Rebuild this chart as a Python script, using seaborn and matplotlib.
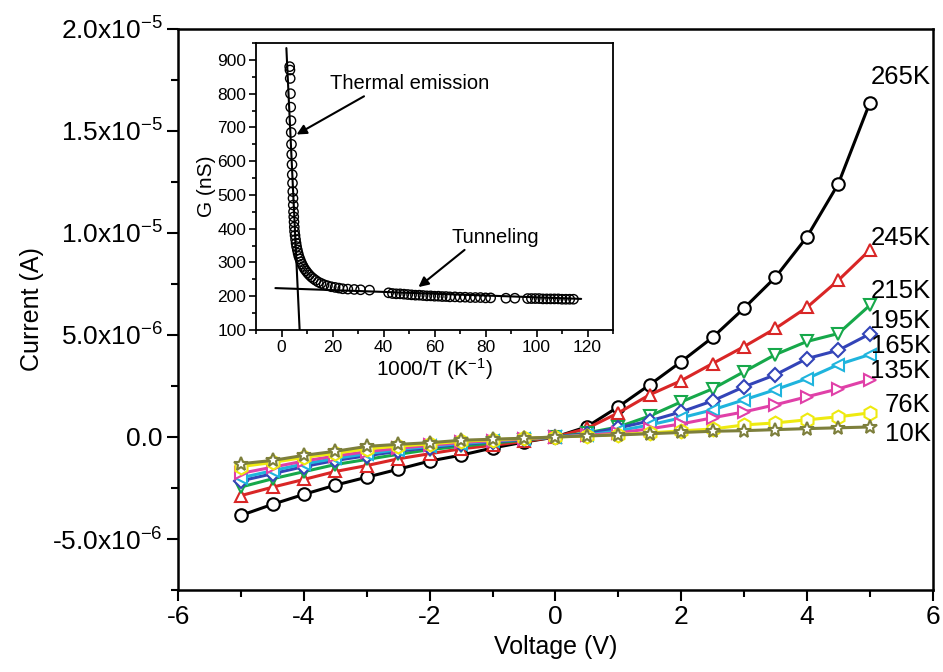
import matplotlib
matplotlib.use("Agg")
import matplotlib.pyplot as plt
import seaborn as sns
import pandas as pd
from matplotlib.ticker import MultipleLocator, FixedLocator, FixedFormatter

# ---- main I-V data (current in uA) ----
voltage = [-5.0, -4.5, -4.0, -3.5, -3.0, -2.5, -2.0, -1.5, -1.0, -0.5, 0.0,
           0.5, 1.0, 1.5, 2.0, 2.5, 3.0, 3.5, 4.0, 4.5, 5.0]
temps = ["265K", "245K", "215K", "195K", "165K", "135K", "76K", "10K"]
cur_265 = [-3.84, -3.30, -2.81, -2.36, -1.97, -1.58, -1.18, -0.89, -0.54, -0.25, 0.0,
           0.50, 1.48, 2.56, 3.69, 4.88, 6.31, 7.83, 9.80, 12.41, 16.37]
cur_245 = [-2.87, -2.46, -2.08, -1.69, -1.40, -1.07, -0.82, -0.58, -0.41, -0.22, 0.0,
           0.42, 1.18, 2.07, 2.76, 3.60, 4.43, 5.32, 6.35, 7.68, 9.16]
cur_215 = [-2.45, -2.05, -1.70, -1.35, -1.10, -0.85, -0.62, -0.45, -0.30, -0.15, 0.0,
           0.20, 0.49, 1.03, 1.72, 2.36, 3.20, 4.04, 4.68, 5.07, 6.45]
cur_195 = [-2.15, -1.80, -1.45, -1.15, -0.92, -0.70, -0.52, -0.36, -0.24, -0.12, 0.0,
           0.15, 0.44, 0.79, 1.23, 1.77, 2.46, 3.05, 3.84, 4.25, 5.05]
cur_165 = [-2.00, -1.65, -1.32, -1.05, -0.82, -0.62, -0.46, -0.32, -0.21, -0.10, 0.0,
           0.10, 0.30, 0.59, 0.94, 1.33, 1.82, 2.32, 2.86, 3.55, 4.04]
cur_135 = [-1.78, -1.48, -1.18, -0.93, -0.72, -0.55, -0.41, -0.27, -0.18, -0.09, 0.0,
           0.08, 0.20, 0.40, 0.64, 0.94, 1.23, 1.58, 1.97, 2.36, 2.81]
cur_76 = [-1.45, -1.25, -1.00, -0.80, -0.58, -0.45, -0.34, -0.21, -0.14, -0.07, 0.0,
          0.05, 0.12, 0.20, 0.30, 0.39, 0.59, 0.69, 0.84, 0.99, 1.18]
cur_10 = [-1.31, -1.15, -0.90, -0.70, -0.46, -0.36, -0.28, -0.16, -0.11, -0.06, 0.0,
          0.05, 0.10, 0.16, 0.22, 0.28, 0.31, 0.36, 0.41, 0.45, 0.49]
currents = [cur_265, cur_245, cur_215, cur_195, cur_165, cur_135, cur_76, cur_10]

colors = ["#000000", "#d92626", "#16a84a", "#3344b8", "#1fb4dd", "#e040a8", "#eeea10", "#7d7f3c"]
markers = ["o", "^", "v", "D", "<", ">", "h", "*"]
label_y = [17.64, 9.75, 7.14, 5.66, 4.46, 3.22, 1.58, 0.15]  # uA, where temperature labels sit

yticks = [-5e-6, 0, 5e-6, 1e-5, 1.5e-5, 2e-5]
ytick_labels = ["-5.0x10$^{-6}$", "0.0", "5.0x10$^{-6}$", "1.0x10$^{-5}$",
                "1.5x10$^{-5}$", "2.0x10$^{-5}$"]

# ---- inset data: G (nS) vs 1000/T ----
inv_t = [3.2, 3.3, 3.4, 3.5, 3.6, 3.7, 3.8, 3.9, 4.0, 4.1, 4.2, 4.3, 4.4, 4.5, 4.6, 4.7,
         4.8, 4.9, 5.0, 5.1, 5.3, 5.5, 5.7, 5.9, 6.2, 6.5, 6.8, 7.2, 7.6, 8.0, 8.5, 9.0,
         9.6, 10.2, 10.9, 11.7, 12.5, 13.4, 14.4, 15.5, 16.7, 18.0, 19.5, 21.0, 22.5,
         24.0, 26.0, 28.5, 31.0, 34.5, 42.0, 43.5, 45.0, 46.5, 48.0, 49.5, 51.0, 52.5,
         54.0, 55.5, 57.0, 58.5, 60.0, 61.5, 63.0, 64.5, 66.0, 68.0, 70.0, 72.0, 74.0,
         76.0, 78.0, 80.0, 82.0, 88.0, 91.5, 96.5, 98.0, 99.5, 101.0, 102.5, 104.0,
         105.5, 107.0, 108.5, 110.0, 111.5, 113.0, 114.5]
g_ns = [880, 870, 845, 800, 760, 720, 685, 650, 620, 590, 560, 535, 510, 490, 470, 450,
        435, 420, 405, 392, 380, 368, 357, 347, 337, 327, 318, 310, 302, 295, 288, 281,
        275, 269, 263, 257, 252, 247, 242, 238, 234, 231, 228, 226, 224,
        222, 221, 220, 219, 218, 210, 208, 207, 207, 206, 205, 204, 203,
        203, 202, 201, 201, 200, 200, 199, 199, 198, 198, 197, 197, 196,
        196, 196, 195, 195, 194, 194, 193, 193, 193, 193, 192, 192,
        192, 192, 192, 191, 191, 191, 191]
thermal_x = [1.9, 7.1]
thermal_g = [935, 100]
tunnel_x = [-2.4, 117.5]
tunnel_g = [224, 192]

sns.set_theme(style="ticks")
plt.rcParams["font.family"] = ["Liberation Sans", "DejaVu Sans"]
plt.rcParams["mathtext.fontset"] = "custom"
plt.rcParams["mathtext.rm"] = "Liberation Sans"
plt.rcParams["mathtext.it"] = "Liberation Sans:italic"
plt.rcParams["axes.unicode_minus"] = False
for key in ["text.color", "axes.labelcolor", "xtick.color", "ytick.color"]:
    plt.rcParams[key] = "black"

fig = plt.figure(figsize=(9.43, 6.72), dpi=100)
ax = fig.add_axes([0.189, 0.122, 0.800, 0.835])

for i, t in enumerate(temps):
    df = pd.DataFrame({"V": voltage, "I": [c * 1e-6 for c in currents[i]]})
    ms = 10 if markers[i] in ("*", "h") else 9
    if markers[i] == "D":
        ms = 7.5
    sns.lineplot(data=df, x="V", y="I", ax=ax, color=colors[i], linewidth=2.2,
                 marker=markers[i], markersize=ms, markerfacecolor="white",
                 markeredgecolor=colors[i], markeredgewidth=1.5, zorder=3 + i)
    ax.text(5.97, label_y[i] * 1e-6, t, ha="right", va="center", fontsize=18.5, zorder=20)

ax.set_xlim(-6, 6)
ax.set_ylim(-7.5e-6, 2e-5)
ax.xaxis.set_major_locator(MultipleLocator(2))
ax.xaxis.set_minor_locator(MultipleLocator(1))
ax.yaxis.set_major_locator(FixedLocator(yticks))
ax.yaxis.set_major_formatter(FixedFormatter(ytick_labels))
ax.yaxis.set_minor_locator(MultipleLocator(2.5e-6))
ax.tick_params(which="major", direction="out", length=8, width=1.5, labelsize=19,
               pad=3, top=False, right=False)
ax.tick_params(which="minor", direction="out", length=5, width=1.5, top=False, right=False)
for s in ax.spines.values():
    s.set_linewidth(1.8)
    s.set_color("black")
ax.set_xlabel("Voltage (V)", fontsize=18, labelpad=4)
ax.set_ylabel("Current (A)", fontsize=18, labelpad=6)

# ---- inset ----
ins = fig.add_axes([0.2715, 0.509, 0.3786, 0.427])
sns.scatterplot(x=inv_t, y=g_ns, ax=ins, marker="o", s=45, facecolor="none",
                edgecolor="black", linewidth=1.0, zorder=3)
sns.lineplot(x=thermal_x, y=thermal_g, ax=ins, color="black", linewidth=1.5, zorder=4)
sns.lineplot(x=tunnel_x, y=tunnel_g, ax=ins, color="black", linewidth=1.5, zorder=4)
ins.set_xlim(-10, 130)
ins.set_ylim(100, 950)
ins.xaxis.set_major_locator(MultipleLocator(20))
ins.xaxis.set_minor_locator(MultipleLocator(10))
ins.yaxis.set_major_locator(MultipleLocator(100))
ins.yaxis.set_minor_locator(MultipleLocator(50))
ins.tick_params(which="major", direction="out", length=5, width=1.2, labelsize=12.5,
                pad=2, top=False, right=False)
ins.tick_params(which="minor", direction="out", length=3, width=1.2, top=False, right=False)
for s in ins.spines.values():
    s.set_linewidth(1.3)
    s.set_color("black")
ins.set_xlabel("1000/T (K$^{-1}$)", fontsize=15, labelpad=1)
ins.set_ylabel("G (nS)", fontsize=15, labelpad=1)
ins.annotate("Thermal emission", xy=(5.9, 679), xytext=(19, 830), fontsize=14.5,
             va="center", ha="left",
             arrowprops=dict(arrowstyle="-|>", color="black", lw=1.5, shrinkA=0,
                             shrinkB=0, relpos=(0.25, 0)))
ins.annotate("Tunneling", xy=(53.7, 227), xytext=(66.5, 375), fontsize=14.5,
             va="center", ha="left",
             arrowprops=dict(arrowstyle="-|>", color="black", lw=1.5, shrinkA=0,
                             shrinkB=0, relpos=(0.2, 0)))

fig.savefig("out.png", dpi=100)
